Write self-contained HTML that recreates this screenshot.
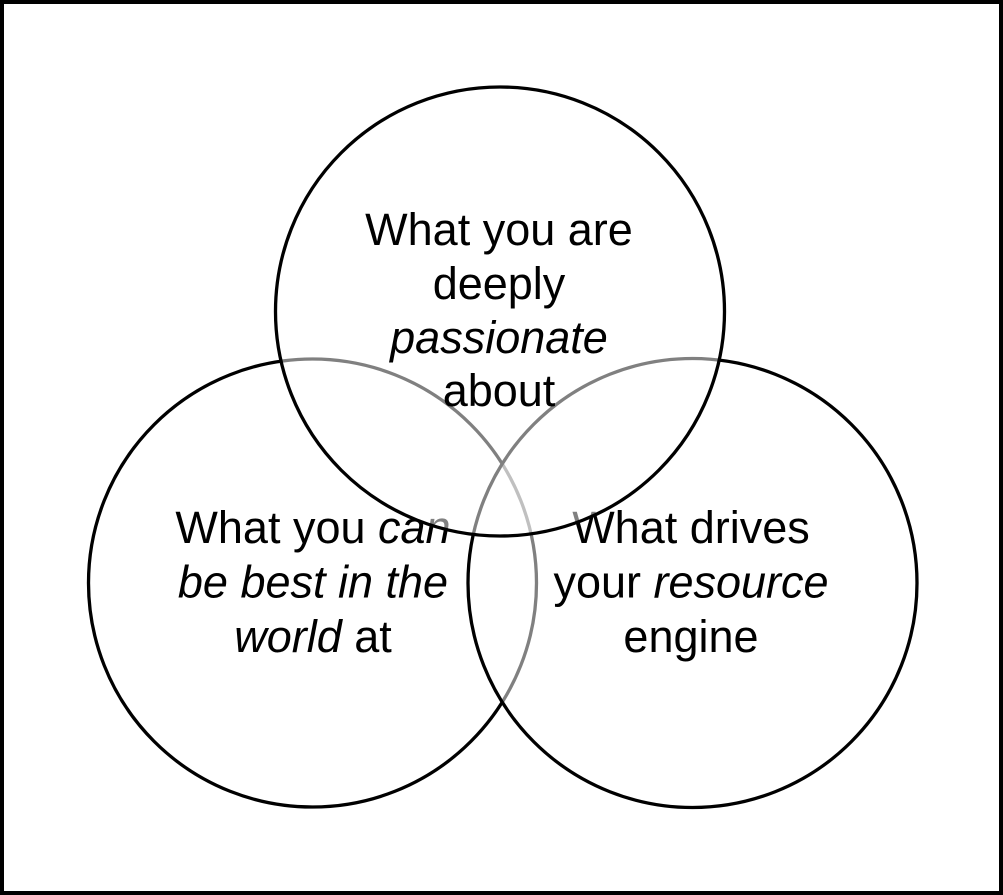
<!DOCTYPE html>
<html>
<head>
<meta charset="utf-8">
<style>
  html, body { margin: 0; padding: 0; background: #fff; }
  svg { display: block; }
  text { font-family: "Liberation Sans", Arial, Helvetica, sans-serif; font-size: 45px; fill: #000; }
  .i { font-style: italic; }
</style>
</head>
<body>
<svg width="1003" height="895" viewBox="0 0 1003 895" xmlns="http://www.w3.org/2000/svg">
  <rect x="0" y="0" width="1003" height="895" fill="#fff"/>

  <!-- Left circle -->
  <g>
    <circle cx="312.5" cy="583" r="224" fill="#fff" fill-opacity="0.5" stroke="#000" stroke-width="3.3"/>
    <text x="313" y="543" text-anchor="middle">What you <tspan class="i">can</tspan></text>
    <text x="313" y="597.5" text-anchor="middle" class="i">be best in the</text>
    <text x="313" y="652" text-anchor="middle"><tspan class="i">world</tspan> at</text>
  </g>

  <!-- Right circle -->
  <g>
    <circle cx="692.5" cy="583" r="224.5" fill="#fff" fill-opacity="0.5" stroke="#000" stroke-width="3.3"/>
    <text x="691" y="543" text-anchor="middle">What drives</text>
    <text x="691" y="597.5" text-anchor="middle">your <tspan class="i">resource</tspan></text>
    <text x="691" y="652" text-anchor="middle">engine</text>
  </g>

  <!-- Top circle -->
  <g>
    <circle cx="500" cy="311.5" r="224.5" fill="#fff" fill-opacity="0.5" stroke="#000" stroke-width="3.3"/>
    <text x="499" y="245" text-anchor="middle">What you are</text>
    <text x="499" y="299" text-anchor="middle">deeply</text>
    <text x="499" y="353" text-anchor="middle" class="i">passionate</text>
    <text x="499" y="406" text-anchor="middle">about</text>
  </g>

  <!-- Border -->
  <rect x="2" y="2" width="999" height="891" fill="none" stroke="#000" stroke-width="4"/>
</svg>
</body>
</html>
